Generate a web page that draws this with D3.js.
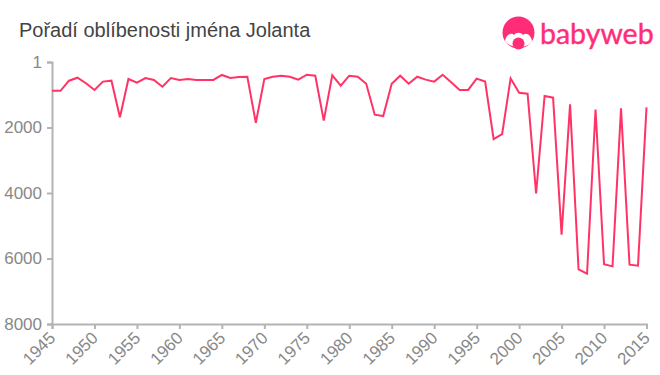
<!DOCTYPE html>
<html>
<head>
<meta charset="utf-8">
<script src="https://cdn.jsdelivr.net/npm/d3@7"></script>
<style>
  body { margin: 0; background: #fff; }
  svg { display: block; font-family: "Liberation Sans", Arial, sans-serif; }
  .axis path, .axis line { stroke: #b3b3b3; stroke-width: 2; }
  .axis text { fill: #888; font-size: 17px; font-family: "Liberation Sans", Arial, sans-serif; }
</style>
</head>
<body>
<svg></svg>
<script>
// Data
const years = d3.range(1945, 2016);
const ranks = [
  878, 880, 572, 480, 650, 856, 600, 572, 1690, 520,
  630, 490, 550, 755, 490, 550, 520, 550, 550, 550,
  397, 490, 460, 450, 1860, 520, 450, 420, 450, 540,
  390, 420, 1790, 410, 725, 420, 450, 665, 1610, 1650,
  665, 420, 665, 450, 540, 600, 390, 620, 855, 855,
  510, 600, 2355, 2200, 500, 940, 970, 4015, 1040, 1090,
  5270, 1295, 6330, 6465, 1450, 6178, 6240, 1417, 6190, 6220,
  1387
];
const yTicks = [1, 2000, 4000, 6000, 8000];
const xTicks = d3.range(1945, 2016, 5);

const width = 660;
const height = 375;
const svg = d3.select("svg").attr("width", width).attr("height", height);

const x = d3.scaleLinear().domain([1945, 2015]).range([52, 646.5]);
const y = d3.scaleLinear().domain([1, 8000]).range([62, 324]);

// axes
const xAxis = svg.append("g")
    .attr("class", "axis")
    .attr("transform", "translate(0,324)")
    .call(d3.axisBottom(x).tickValues(xTicks).tickFormat(d3.format("d")).tickSize(5).tickSizeOuter(5));
xAxis.selectAll("text")
    .attr("text-anchor", "end")
    .attr("x", 0)
    .attr("y", 0)
    .attr("dy", 0)
    .attr("transform", "translate(4,15) rotate(-45)");

const yAxis = svg.append("g")
    .attr("class", "axis")
    .attr("transform", "translate(52,0)")
    .call(d3.axisLeft(y).tickValues(yTicks).tickFormat(d3.format("d")).tickSize(5).tickSizeOuter(5));
yAxis.selectAll("text").attr("x", -10);

// line
const line = d3.line().x((d, i) => x(years[i])).y(d => y(d));
svg.append("path")
    .datum(ranks)
    .attr("d", line)
    .attr("fill", "none")
    .attr("stroke", "#ff3366")
    .attr("stroke-width", 2);

// title
svg.append("text")
    .attr("x", 19).attr("y", 37)
    .attr("fill", "#444")
    .style("font-size", "20px")
    .text("Pořadí oblíbenosti jména Jolanta");

// logo
const logo = svg.append("g");
logo.append("circle").attr("cx", 518.5).attr("cy", 32.5).attr("r", 16).attr("fill", "#ff2d78");
logo.append("path")
    .attr("d", "M505 41 C506 35 511 32 514 35 C516 32 521 32 523 35 C526 32 531 35 532 41 C528 49 510 49 505 41 Z")
    .attr("fill", "#fff");
logo.append("circle").attr("cx", 518.5).attr("cy", 43.5).attr("r", 6).attr("fill", "#ff2d78");
logo.append("text")
    .attr("x", 540).attr("y", 44)
    .attr("fill", "#ff2d78")
    .attr("stroke", "#ff2d78")
    .attr("stroke-width", 0.4)
    .style("font-family", "Lato, 'Noto Sans', sans-serif")
    .style("font-size", "28.5px")
    .text("babyweb");
</script>
</body>
</html>
